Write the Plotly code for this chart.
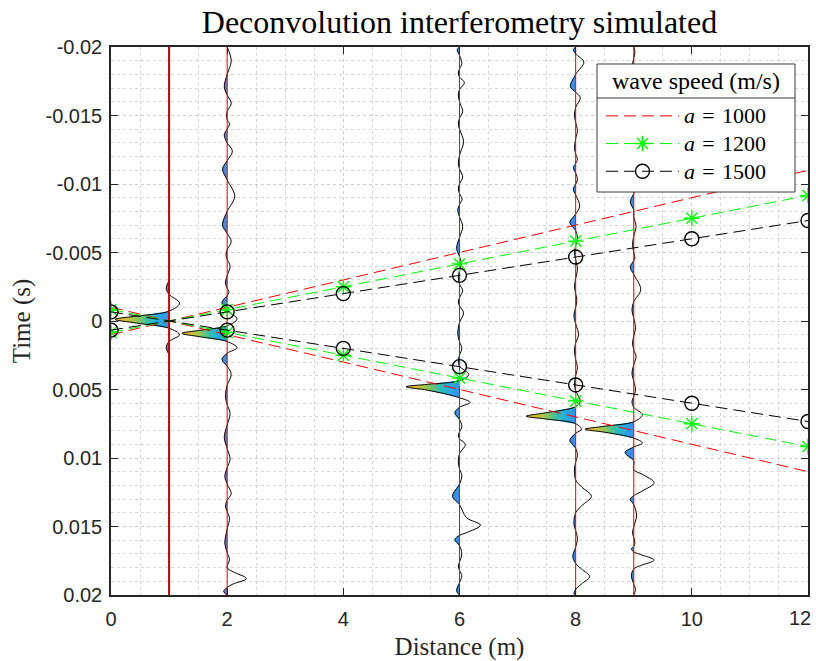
import plotly.graph_objects as go

# Virtual source position and receiver offsets (m)
source_x = 1.0
receiver_x = [1, 2, 6, 8, 9]

# Reference wave speeds (m/s) for the travel-time guides
speeds = [1000, 1200, 1500]
speed_colors = ["#ff0000", "#00ff00", "#000000"]
speed_symbols = [None, "asterisk-open", "circle-open"]
guide_x = [0, 2, 4, 6, 8, 10, 12]

# Deconvolved traces: (time in ms, deflection in m) at turning points and zero crossings
trace_1 = [(-20.0, 0), (-4.0, 0), (-3.0, 0), (-2.4, -0.05), (-1.95, 0), (-1.3, 0.18), (-0.72, 0),
           (-0.36, -0.56), (-0.12, -0.93), (0.15, -0.56), (0.53, 0), (1.0, 0.18), (1.5, 0),
           (1.95, -0.05), (2.5, 0), (3.5, 0), (20.0, 0)]

trace_2 = [(-20.0, 0), (-19.0, 0.07), (-18.0, 0), (-17.1, -0.05), (-16.5, 0), (-15.9, 0.07), (-15.3, 0),
           (-15.0, -0.01), (-14.7, 0), (-14.4, 0.04), (-14.0, 0), (-13.6, -0.05), (-13.0, 0),
           (-12.4, 0.09), (-11.7, 0), (-11.1, -0.08), (-10.3, 0), (-9.1, 0.13), (-8.0, 0),
           (-7.0, -0.08), (-6.4, 0), (-5.8, 0.07), (-5.2, 0), (-4.8, -0.02), (-4.5, 0), (-4.0, 0.05),
           (-3.3, 0), (-2.8, -0.03), (-2.4, 0), (-2.1, 0.03), (-1.85, 0), (-1.35, -0.09), (-0.75, 0),
           (-0.15, 0.17), (0.35, 0), (0.68, -0.47), (0.9, -0.78), (1.15, -0.47), (1.5, 0),
           (1.95, 0.17), (2.35, 0), (2.8, -0.09), (3.3, 0), (3.9, 0.07), (4.7, 0), (5.5, -0.03),
           (6.1, 0), (6.75, 0.05), (7.6, 0), (8.5, -0.05), (9.3, 0), (10.1, 0.05), (10.7, 0),
           (11.35, -0.04), (11.9, 0), (12.6, 0.07), (13.1, 0), (13.5, -0.03), (13.9, 0), (14.4, 0.04),
           (15.2, 0), (16.2, -0.04), (16.9, 0), (17.4, 0.04), (18.0, 0), (18.3, 0.1), (18.8, 0.33),
           (19.2, 0.1), (19.45, 0), (19.75, -0.06), (20.0, 0)]

trace_6 = [(-20.0, 0), (-19.8, -0.04), (-19.4, 0), (-18.8, 0.04), (-18.4, 0), (-18.1, -0.02), (-17.8, 0),
           (-17.4, 0.085), (-16.9, 0), (-16.5, -0.02), (-16.0, 0), (-15.3, 0.055), (-14.8, 0),
           (-14.4, -0.02), (-14.0, 0), (-13.1, 0.07), (-12.1, 0), (-11.5, -0.02), (-11.1, 0),
           (-10.5, 0.055), (-10.0, 0), (-9.7, -0.02), (-9.3, 0), (-8.9, 0.045), (-8.5, 0),
           (-8.1, -0.03), (-7.6, 0), (-6.9, 0.055), (-6.1, 0), (-5.3, -0.05), (-4.7, 0), (-4.2, 0.03),
           (-3.7, 0), (-3.2, -0.02), (-2.7, 0), (-2.2, 0.055), (-1.7, 0), (-1.4, -0.02), (-1.1, 0),
           (-0.6, 0.07), (0.1, 0), (0.95, -0.03), (1.5, 0), (2.0, 0.04), (2.5, 0), (2.9, -0.02),
           (3.3, 0), (3.9, 0.16), (4.35, 0), (4.62, -0.55), (4.8, -0.92), (5.05, -0.55), (5.6, 0),
           (5.95, 0.18), (6.3, 0), (6.7, -0.08), (7.2, 0), (7.7, 0.04), (8.1, 0), (8.35, -0.02),
           (8.6, 0), (9.0, 0.1), (9.7, 0), (10.3, -0.02), (10.8, 0), (11.3, 0.04), (11.9, 0),
           (12.8, -0.12), (13.4, 0), (14.35, 0.12), (14.9, 0.36), (15.45, 0.12), (15.65, 0),
           (15.95, -0.08), (16.4, 0), (17.0, 0.04), (17.6, 0), (17.9, -0.02), (18.2, 0), (18.6, 0.04),
           (19.1, 0), (19.7, -0.05), (20.0, 0)]

trace_8 = [(-20.0, 0), (-19.8, -0.04), (-19.5, 0), (-18.9, 0.14), (-18.0, 0), (-17.1, -0.09), (-16.7, 0),
           (-16.3, 0.08), (-15.6, 0), (-15.0, -0.02), (-14.5, 0), (-13.9, 0.03), (-13.3, 0),
           (-12.6, -0.02), (-12.2, 0), (-11.8, 0.03), (-11.5, 0), (-11.2, -0.04), (-10.8, 0),
           (-10.3, 0.03), (-10.0, 0), (-9.6, -0.04), (-9.2, 0), (-8.4, 0.07), (-7.8, 0),
           (-7.2, -0.1), (-6.6, 0), (-6.0, 0.03), (-5.5, 0), (-5.0, -0.02), (-4.5, 0), (-3.8, 0.03),
           (-3.1, 0), (-2.5, -0.02), (-2.0, 0), (-1.5, 0.02), (-1.0, 0), (-0.4, -0.03), (0.2, 0),
           (1.0, 0.05), (1.6, 0), (2.2, -0.02), (2.8, 0), (3.4, 0.03), (4.0, 0), (4.6, -0.02),
           (5.1, 0), (5.85, 0.08), (6.25, 0), (6.7, -0.52), (6.95, -0.85), (7.15, -0.52), (7.5, 0),
           (7.9, 0.1), (8.2, 0), (8.7, -0.1), (9.3, 0), (9.8, 0.03), (10.3, 0), (10.8, -0.02),
           (11.6, 0), (12.1, 0.1), (12.8, 0.27), (13.5, 0.1), (14.0, 0), (14.8, -0.03), (15.3, 0),
           (15.9, 0.03), (16.5, 0), (17.2, -0.05), (17.7, 0), (18.1, 0.1), (18.65, 0.24),
           (19.2, 0.1), (19.6, 0), (19.9, -0.03), (20.0, 0)]

trace_9 = [(-20.0, 0), (-19.6, 0.02), (-19.2, 0), (-18.7, -0.02), (-18.2, 0), (-17.6, 0.03), (-17.0, 0),
           (-16.3, -0.03), (-15.6, 0), (-14.8, 0.03), (-14.0, 0), (-13.3, -0.02), (-12.6, 0),
           (-11.9, 0.03), (-11.2, 0), (-10.5, -0.02), (-10.0, 0), (-9.6, 0.02), (-9.3, 0),
           (-8.7, -0.06), (-8.1, 0), (-7.6, 0), (-6.9, 0.04), (-6.2, 0), (-5.6, -0.02), (-5.0, 0),
           (-4.6, 0.02), (-4.4, 0), (-3.95, -0.06), (-3.4, 0), (-2.3, 0.12), (-1.4, 0), (-0.8, -0.03),
           (-0.2, 0), (0.5, 0.03), (1.1, 0), (1.6, -0.02), (2.1, 0), (2.6, 0.04), (3.2, 0),
           (3.8, -0.03), (4.4, 0), (5.0, 0.03), (5.5, 0), (5.9, -0.03), (6.3, 0), (6.85, 0.15),
           (7.35, 0), (7.68, -0.5), (7.9, -0.84), (8.12, -0.5), (8.55, 0), (8.9, 0.15), (9.2, 0),
           (9.6, -0.15), (10.2, 0), (10.85, 0), (11.2, 0.15), (11.8, 0.35), (12.4, 0.15),
           (12.75, 0), (13.0, -0.06), (13.4, 0), (14.2, 0.05), (15.0, 0), (15.5, -0.02), (15.8, 0),
           (16.2, 0.02), (16.45, 0), (16.65, -0.04), (16.85, 0), (17.05, 0.12), (17.45, 0.35),
           (17.85, 0.12), (18.1, 0), (18.6, -0.04), (19.2, 0), (19.6, 0.03), (20.0, 0)]

traces = [trace_1, trace_2, trace_6, trace_8, trace_9]

# Colour of the negative lobes
lobe_blue = "#3c8ee2"
peak_scale = [[0.0, "#f0b432"], [0.2, "#d8c034"], [0.42, "#8cc658"], [0.62, "#32bfae"],
              [0.82, "#24aae4"], [1.0, "#3a8fe8"]]


def negative_lobes(points):
    """Runs of points between two zero crossings that swing to the left."""
    out, last_zero = [], None
    for i, (_, amp) in enumerate(points):
        if amp == 0:
            if last_zero is not None and i - last_zero > 1:
                seg = points[last_zero:i + 1]
                if min(p[1] for p in seg) < 0:
                    out.append(seg)
            last_zero = i
    return out


fig = go.Figure()

for xr, pts in zip(receiver_x, traces):
    for seg in negative_lobes(pts):
        xs = [xr + a for _, a in seg]
        ys = [t * 1e-3 for t, _ in seg]
        style = dict(fill="toself", mode="lines", line=dict(width=0, shape="spline"),
                     hoverinfo="skip", showlegend=False)
        if min(xs) < xr - 0.3:
            fig.add_trace(go.Scatter(x=xs, y=ys, fillgradient=dict(
                type="horizontal", colorscale=peak_scale, start=min(xs), stop=xr), **style))
        else:
            fig.add_trace(go.Scatter(x=xs, y=ys, fillcolor=lobe_blue, **style))
    fig.add_trace(go.Scatter(
        x=[xr + a for _, a in pts], y=[t * 1e-3 for t, _ in pts], mode="lines",
        line=dict(color="black", width=1, shape="spline"), hoverinfo="skip", showlegend=False))

# receiver baselines
for xr in receiver_x:
    fig.add_trace(go.Scatter(
        x=[xr, xr], y=[-0.02, 0.02], mode="lines",
        line=dict(color="#d00000" if xr == source_x else "#ff0000", width=2 if xr == source_x else 1),
        hoverinfo="skip", showlegend=False))

# travel-time guides t = +/-(x - x_s)/a
for a, col, sym in zip(speeds, speed_colors, speed_symbols):
    up = [(source_x - x) / a for x in guide_x]
    down = [(x - source_x) / a for x in guide_x]
    kw = dict(mode="lines")
    if sym is not None:
        kw = dict(mode="lines+markers",
                  marker=dict(symbol=sym, size=14 if sym == "circle-open" else 13, color=col,
                              line=dict(color=col, width=1.4)))
    fig.add_trace(go.Scatter(
        x=guide_x + [None] + guide_x, y=up + [None] + down,
        line=dict(color=col, width=1, dash="12px,6px"),
        name=f'<span style="font-size:22px"><i>a</i>\u2004=\u2004{a}</span>',
        hoverinfo="skip", **kw))

axis_col = "#262626"
serif = "Liberation Serif"
sans = "Liberation Sans"
tick_font = dict(family=sans, size=20, color=axis_col)

y_ticks = [-0.02, -0.015, -0.01, -0.005, 0, 0.005, 0.01, 0.015, 0.02]
y_labels = ["-0.02", "-0.015", "-0.01", "-0.005", "0", "0.005", "0.01", "0.015", "0.02"]
x_ticks = [0, 2, 4, 6, 8, 10, 12]
x_labels = ["0", "2", "4", "6", "8", "10", ""]   # the last one is set flush with the page edge below

common = dict(ticks="inside", ticklen=7, tickwidth=1, tickcolor=axis_col, showline=True,
              linecolor=axis_col, linewidth=1.5, mirror="ticks", showgrid=True,
              gridcolor="#cdcdcd", griddash="dot", gridwidth=1, zeroline=False,
              ticklabeloverflow="allow", automargin=False, tickfont=tick_font)


def px_x(p):
    return (p - 111) / 697


def px_y(p):
    return (595 - p) / 548


# legend frame: white panel with a title row
box_l, box_r, box_t, box_b, title_sep = 597, 795, 64, 192, 98
legend_shapes = [
    dict(type="rect", xref="paper", yref="paper", x0=px_x(box_l), x1=px_x(box_r),
         y0=px_y(box_b), y1=px_y(box_t), fillcolor="white", line=dict(color="#3a3a3a", width=1),
         layer="above"),
    dict(type="line", xref="paper", yref="paper", x0=px_x(box_l), x1=px_x(box_r),
         y0=px_y(title_sep), y1=px_y(title_sep), line=dict(color="#3a3a3a", width=1), layer="above"),
]

fig.update_layout(
    width=816, height=661, autosize=False,
    margin=dict(l=111, r=8, t=47, b=66, autoexpand=False),
    paper_bgcolor="white", plot_bgcolor="white",
    title=dict(text="Deconvolution interferometry simulated", x=(111 + 808) / 2 / 816,
               xanchor="center", y=1 - 22 / 661, yanchor="middle",
               font=dict(family=serif, size=32, color="black")),
    xaxis=dict(range=[0, 12], tickvals=x_ticks, ticktext=x_labels, ticklabelstandoff=5,
               minor=dict(dtick=0.5, showgrid=True, gridcolor="#d6d6d6", griddash="dot", ticks=""),
               title=dict(text="Distance (m)", standoff=11, font=dict(family=serif, size=25, color=axis_col)),
               **common),
    yaxis=dict(range=[0.02, -0.02], tickvals=y_ticks, ticktext=y_labels, ticklabelstandoff=3,
               minor=dict(dtick=0.001, showgrid=True, gridcolor="#d6d6d6", griddash="dot", ticks=""),
               title=dict(text="Time (s)", standoff=8, font=dict(family=serif, size=25, color=axis_col)),
               **common),
    legend=dict(x=px_x(601), xanchor="left", y=px_y(97), yanchor="top",
                bgcolor="rgba(0,0,0,0)", borderwidth=0, itemwidth=73,
                font=dict(family=serif, size=19, color="black")),
    shapes=legend_shapes,
    annotations=[
        dict(text="wave speed (m/s)", xref="paper", yref="paper",
             x=px_x((box_l + box_r) / 2), y=px_y((box_t + title_sep) / 2),
             xanchor="center", yanchor="middle", showarrow=False,
             font=dict(family=serif, size=24, color="black")),
        dict(text=str(x_ticks[-1]), xref="x", yref="paper", x=x_ticks[-1], xshift=5,
             y=px_y(618), xanchor="right", yanchor="middle", showarrow=False, font=tick_font),
    ],
)

fig.write_html("out.html")
